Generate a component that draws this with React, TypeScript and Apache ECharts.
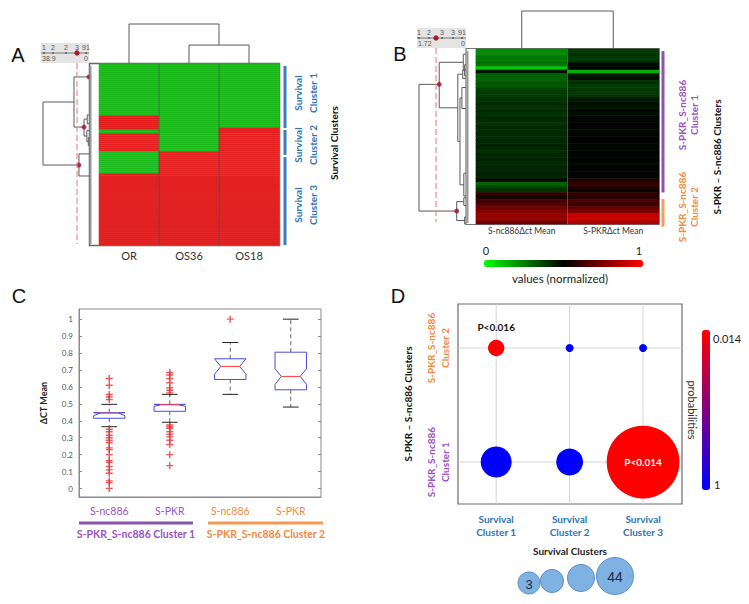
import React, { useEffect, useRef } from 'react';
import * as echarts from 'echarts';

const FONT = 'Lato, "Open Sans", "DejaVu Sans", sans-serif';
const GREEN = '#17b817';
const RED = '#e21a1a';
const BLUE_TXT = '#2e75b6';
const PURPLE = '#9a52c4';
const PURPLE_LINE = '#8756ad';
const ORANGE = '#f28a3d';
const BOX_BLUE = '#4b4be0';

// ---------- Panel A : survival clustergram ----------
const colsA = ['OR', 'OS36', 'OS18'];
const rowCountA = 91;
// run lengths of rows from top to bottom, alternating green(0) / red(1), starting green
const runsOR = [26, 7, 2, 9, 11, 36];
const runsOS36 = [44, 47];
const runsOS18 = [32, 59];
// dendrogram links: [posA, posB, mergeHeight, heightChildA, heightChildB]
const dendroLeftA = [
  [19.1, 50.8, 38.9, 12.7, 8.5],
  [6.5, 31.7, 12.7, 0, 4.2],
  [45.2, 56.3, 8.5, 0, 0],
  [27.7, 36.2, 4.2, 1.5, 1.8],
  [25.6, 30.0, 1.5, 0, 0],
  [33.5, 39.0, 1.8, 0, 0.6],
  [37.0, 41.0, 0.6, 0, 0],
];
const dendroTopA = [
  [1.5, 2.5, 0.46, 0, 0],
  [0.5, 2.0, 1.0, 0, 0.46],
];
const clusterNodesA = [[0, 6.5], [4.2, 31.7], [8.5, 50.8]];
const survivalClusterRows = [[1, 32.2], [33.2, 45.7], [46.8, 91]];

// ---------- Panel B : S-PKR / S-nc886 clustergram ----------
const colsB = ['S-nc886\u0394ct Mean', 'S-PKR\u0394ct Mean'];
const nc886Norm = [0.22, 0.22, 0.26, 0.26, 0.26, 0.1, 0.46, 0.3, 0.3, 0.32, 0.32, 0.37, 0.38, 0.38, 0.4, 0.41, 0.4, 0.41, 0.4, 0.42, 0.41, 0.4, 0.42, 0.41, 0.42, 0.41, 0.42, 0.43, 0.42, 0.41, 0.42, 0.43, 0.42, 0.43, 0.42, 0.44, 0.42, 0.48, 0.3, 0.36, 0.4, 0.6, 0.55, 0.63, 0.68, 0.72, 0.76, 0.8, 0.82, 0.74];
const pkrNorm = [0.38, 0.4, 0.38, 0.4, 0.48, 0.5, 0.15, 0.45, 0.47, 0.4, 0.38, 0.39, 0.38, 0.4, 0.45, 0.47, 0.46, 0.48, 0.47, 0.49, 0.48, 0.5, 0.49, 0.48, 0.5, 0.49, 0.5, 0.49, 0.48, 0.5, 0.49, 0.5, 0.48, 0.5, 0.49, 0.5, 0.49, 0.56, 0.6, 0.58, 0.52, 0.6, 0.58, 0.65, 0.62, 0.7, 0.75, 0.9, 0.92, 0.85];
const dendroLeftB = [
  [10.1, 46.3, 1.72, 0.98, 0.34],
  [3.8, 16.8, 0.98, 0.1, 0.3],
  [1.5, 6.1, 0.1, 0, 0.05],
  [4.5, 7.7, 0.05, 0, 0],
  [7.2, 26.4, 0.3, 0.12, 0.22],
  [6.0, 8.4, 0.12, 0, 0],
  [14.0, 38.8, 0.22, 0.15, 0.08],
  [11.0, 17.0, 0.15, 0, 0],
  [35.5, 42.0, 0.08, 0, 0],
  [43.6, 49.0, 0.34, 0.08, 0.05],
  [42.5, 44.7, 0.08, 0, 0],
  [48.0, 50.0, 0.05, 0, 0],
];
const dendroTopB = [[0.5, 1.5, 1.0, 0, 0]];
const clusterNodesB = [[0.98, 10.1], [0.34, 46.3]];
const pkrClusterRows = [[0.6, 41], [42.9, 50.8]];

// ---------- Panel C : boxplots ----------
const boxNames = ['S-nc886', 'S-PKR', 'S-nc886', 'S-PKR'];
const ticksC = [0, 0.1, 0.2, 0.3, 0.4, 0.5, 0.6, 0.7, 0.8, 0.9, 1];
// [whiskerLow, q1, median, q3, whiskerHigh, notchLow, notchHigh]
const boxStats = [
  [0.365, 0.415, 0.445, 0.448, 0.497, 0.43, 0.448],
  [0.391, 0.456, 0.494, 0.497, 0.556, 0.485, 0.497],
  [0.556, 0.644, 0.721, 0.766, 0.862, 0.675, 0.766],
  [0.481, 0.583, 0.662, 0.805, 1.0, 0.615, 0.707],
];
const outNc886C1 = [0.65, 0.61, 0.555, 0.54, 0.525, 0.35, 0.335, 0.315, 0.3, 0.285, 0.27, 0.24, 0.23, 0.2, 0.165, 0.155, 0.13, 0.11, 0.09, 0.045, 0.035, 0];
const outPkrC1 = [0.685, 0.67, 0.65, 0.625, 0.595, 0.58, 0.565, 0.375, 0.365, 0.355, 0.335, 0.32, 0.305, 0.285, 0.26, 0.2, 0.135];
const outNc886C2 = [1.0];
const outPkrC2: number[] = [];

// ---------- Panel D : bubble chart ----------
const survivalNames = ['Survival\nCluster 1', 'Survival\nCluster 2', 'Survival\nCluster 3'];
const pkrNames = ['S-PKR_S-nc886\nCluster 1', 'S-PKR_S-nc886\nCluster 2'];
const bubbleX = [1, 2, 3, 1, 2, 3];
const bubbleY = [1, 1, 1, 2, 2, 2];
const bubbleCount = [9, 7, 44, 3, 1, 1];
const bubbleP = [1, 1, 0.014, 0.016, 1, 1];
const bubbleText = ['', '', 'P<0.014', 'P<0.016', '', ''];
const gridValsX = [1, 2, 3];
const gridValsY = [1, 2];

function expandRuns(runs: number[]) {
  const out: number[] = [];
  runs.forEach((n, k) => {
    for (let i = 0; i < n; i++) out.push(k % 2);
  });
  return out;
}

function dendroRender(orient: 'top' | 'left') {
  return (_params: any, api: any) => {
    const a = api.value(0), b = api.value(1), h = api.value(2), ha = api.value(3), hb = api.value(4);
    const P = (pos: number, hh: number) => (orient === 'top' ? api.coord([pos, hh]) : api.coord([hh, pos]));
    return {
      type: 'polyline',
      shape: { points: [P(a, ha), P(a, h), P(b, h), P(b, hb)] },
      style: { stroke: '#5a5a5a', lineWidth: 1, fill: 'none' },
    };
  };
}

function barRender(colors: string[]) {
  return (params: any, api: any) => {
    const p1 = api.coord([0.5, api.value(0)]);
    const p2 = api.coord([0.5, api.value(1)]);
    return {
      type: 'line',
      shape: { x1: p1[0], y1: p1[1], x2: p2[0], y2: p2[1] },
      style: { stroke: colors[params.dataIndex % colors.length], lineWidth: 3 },
    };
  };
}

function boxRender(_params: any, api: any) {
  const c = api.value(0);
  const Y = (v: number) => api.coord([c, v])[1];
  const cx = api.coord([c, 0])[0];
  const bw = api.size([1, 0])[0] * 0.26;
  const nw = bw * 0.6;
  const lo = Y(api.value(1)), q1 = Y(api.value(2)), md = Y(api.value(3)), q3 = Y(api.value(4)), hi = Y(api.value(5));
  const nLo = Y(Math.max(api.value(6), api.value(2)));
  const nHi = Y(Math.min(api.value(7), api.value(4)));
  const capW = bw * 0.5;
  return {
    type: 'group',
    children: [
      { type: 'line', shape: { x1: cx, y1: q3, x2: cx, y2: hi }, style: { stroke: '#666', lineWidth: 1, lineDash: [4, 3] } },
      { type: 'line', shape: { x1: cx, y1: q1, x2: cx, y2: lo }, style: { stroke: '#666', lineWidth: 1, lineDash: [4, 3] } },
      { type: 'line', shape: { x1: cx - capW, y1: hi, x2: cx + capW, y2: hi }, style: { stroke: '#222', lineWidth: 1 } },
      { type: 'line', shape: { x1: cx - capW, y1: lo, x2: cx + capW, y2: lo }, style: { stroke: '#222', lineWidth: 1 } },
      {
        type: 'polygon',
        shape: {
          points: [
            [cx - bw, q1], [cx + bw, q1], [cx + bw, nLo], [cx + nw, md], [cx + bw, nHi],
            [cx + bw, q3], [cx - bw, q3], [cx - bw, nHi], [cx - nw, md], [cx - bw, nLo],
          ],
        },
        style: { stroke: BOX_BLUE, fill: 'none', lineWidth: 1 },
      },
      { type: 'line', shape: { x1: cx - nw, y1: md, x2: cx + nw, y2: md }, style: { stroke: '#ff3b3b', lineWidth: 1 } },
    ],
  };
}

function gridLineRender(params: any, api: any) {
  const cs = params.coordSys;
  const kind = api.value(0);
  const v = api.value(1);
  if (kind === 0) {
    const x = api.coord([v, 1.5])[0];
    return { type: 'line', shape: { x1: x, y1: cs.y, x2: x, y2: cs.y + cs.height }, style: { stroke: '#d4d4d4', lineWidth: 1 } };
  }
  const y = api.coord([2, v])[1];
  return { type: 'line', shape: { x1: cs.x, y1: y, x2: cs.x + cs.width, y2: y }, style: { stroke: '#d4d4d4', lineWidth: 1 } };
}

const T = (text: string, x: number, y: number, o: any = {}) => ({
  type: 'text',
  x,
  y,
  rotation: o.rotation || 0,
  z: 100,
  style: {
    text,
    fill: o.color || '#222',
    fontSize: o.size || 10,
    fontWeight: o.weight || 'normal',
    fontFamily: o.family || FONT,
    align: o.align || 'center',
    verticalAlign: 'middle',
    textAlign: o.align || 'center',
    textVerticalAlign: 'middle',
    lineHeight: o.lineHeight || undefined,
  },
});

const L = (x1: number, y1: number, x2: number, y2: number, stroke: string, lineWidth = 1, dash?: number[]) => ({
  type: 'line',
  z: 100,
  shape: { x1, y1, x2, y2 },
  style: { stroke, lineWidth, lineDash: dash },
});

function slider(x: number, y: number, w: number, top: string[], topX: number[], left: string, dotX: number) {
  const els: any[] = [
    { type: 'rect', z: 90, shape: { x, y, width: w, height: 20 }, style: { fill: '#e4e4e4' } },
    L(x, y + 10, x + w, y + 10, '#777', 1),
    { type: 'circle', z: 101, shape: { cx: dotX, cy: y + 10, r: 2.6 }, style: { fill: '#b0142c' } },
    T(left, x + 1, y + 15.5, { size: 7, color: '#555', align: 'left', family: 'Liberation Sans' }),
    T('0', x + w - 1, y + 15.5, { size: 7, color: '#555', align: 'right', family: 'Liberation Sans' }),
  ];
  top.forEach((t, i) => {
    els.push(T(t, topX[i], y + 4, { size: 7, color: '#555', family: 'Liberation Sans' }));
    els.push({ type: 'circle', z: 100, shape: { cx: topX[i], cy: y + 10, r: 0.9 }, style: { fill: '#555' } });
  });
  return els;
}

export default function App() {
  const ref = useRef<HTMLDivElement>(null);
  useEffect(() => {
    if (!ref.current) return;
    document.body.style.margin = '0';
    const chart = echarts.init(ref.current, null, { renderer: 'svg' });

    const colRuns = [runsOR, runsOS36, runsOS18];
    const heatA: number[][] = [];
    colRuns.forEach((runs, c) => {
      expandRuns(runs).forEach((v, r) => heatA.push([c, r, v]));
    });
    const heatB: number[][] = [];
    [nc886Norm, pkrNorm].forEach((arr, c) => arr.forEach((v, r) => heatB.push([c, r, v])));
    const rowsA = Array.from({ length: rowCountA }, (_, i) => String(i));
    const rowsB = nc886Norm.map((_, i) => String(i));

    const boxData = boxStats.map((s, i) => [i, ...s]);
    const outliers: number[][] = [];
    [outNc886C1, outPkrC1, outNc886C2, outPkrC2].forEach((arr, i) => arr.forEach((v) => outliers.push([i, v])));

    const bubbles = bubbleX.map((x, i) => ({
      value: [x, bubbleY[i], bubbleCount[i], bubbleP[i]],
      label: bubbleText[i]
        ? bubbleText[i] === 'P<0.014'
          ? { show: true, position: 'inside', formatter: bubbleText[i], color: '#fff', fontWeight: 'bold', fontSize: 10 }
          : { show: true, position: 'top', distance: 8, formatter: bubbleText[i], color: '#111', fontWeight: 'bold', fontSize: 10 }
        : { show: false },
    }));
    const gridLinesD = [...gridValsX.map((v) => [0, v]), ...gridValsY.map((v) => [1, v])];

    const hid = (gridIndex: number, min: number, max: number, extra: any = {}) => ({
      type: 'value', gridIndex, min, max, show: false, ...extra,
    });

    const option: any = {
      animation: false,
      textStyle: { fontFamily: FONT },
      grid: [
        { left: 99, top: 64, width: 180, height: 181 },   // 0 A heat
        { left: 99, top: 24, width: 180, height: 39 },    // 1 A top dendro
        { left: 43, top: 64, width: 46, height: 181 },    // 2 A left dendro
        { left: 283, top: 64, width: 4, height: 181 },    // 3 A bars
        { left: 476, top: 49, width: 183, height: 175 },  // 4 B heat
        { left: 476, top: 11, width: 183, height: 37 },   // 5 B top dendro
        { left: 419, top: 49, width: 47, height: 175 },   // 6 B left dendro
        { left: 661, top: 49, width: 4, height: 175 },    // 7 B bars
        { left: 79, top: 309, width: 242, height: 188, show: true, borderColor: '#8a8a8a', borderWidth: 1 }, // 8 C
        { left: 458, top: 304, width: 224, height: 200, show: true, borderColor: '#6a6a6a', borderWidth: 1.2 }, // 9 D
      ],
      xAxis: [
        {
          type: 'category', gridIndex: 0, data: colsA,
          axisLine: { show: false }, axisTick: { show: false },
          axisLabel: { fontSize: 11, color: '#333', margin: 5 },
        },
        hid(1, 0, 3),
        hid(2, 0, 38.9, { inverse: true }),
        hid(3, 0, 1),
        {
          type: 'category', gridIndex: 4, data: colsB,
          axisLine: { show: false }, axisTick: { show: false },
          axisLabel: { fontSize: 8.5, color: '#333', margin: 2 },
        },
        hid(5, 0, 2),
        hid(6, 0, 1.72, { inverse: true }),
        hid(7, 0, 1),
        {
          type: 'category', gridIndex: 8, data: boxNames, position: 'bottom',
          axisLine: { onZero: false, lineStyle: { color: '#8a8a8a' } },
          axisTick: { inside: true, alignWithLabel: true, length: 3, lineStyle: { color: '#8a8a8a' } },
          axisLabel: { fontSize: 10.5, margin: 8, color: (_v: any, i: number) => (i < 2 ? PURPLE : ORANGE) },
        },
        {
          type: 'category', gridIndex: 8, data: boxNames, position: 'top',
          axisLine: { show: false, onZero: false },
          axisTick: { inside: true, alignWithLabel: true, length: 3, lineStyle: { color: '#8a8a8a' } },
          axisLabel: { show: false },
        },
        {
          type: 'value', gridIndex: 9, min: 0.48, max: 3.53,
          axisLine: { show: false, onZero: false }, axisTick: { show: false }, splitLine: { show: false },
          axisLabel: {
            customValues: gridValsX,
            formatter: (v: any) => survivalNames[Math.round(Number(v)) - 1] || '',
            color: BLUE_TXT, fontSize: 10, fontWeight: 'bold', lineHeight: 13, margin: 8,
          },
          name: 'Survival Clusters', nameLocation: 'middle', nameGap: 42,
          nameTextStyle: { fontSize: 10, fontWeight: 'bold', color: '#222' },
        },
      ],
      yAxis: [
        { type: 'category', gridIndex: 0, data: rowsA, inverse: true, show: false },
        hid(1, 0, 1),
        hid(2, 0, 91, { inverse: true }),
        hid(3, 0, 91, { inverse: true }),
        { type: 'category', gridIndex: 4, data: rowsB, inverse: true, show: false },
        hid(5, 0, 1),
        hid(6, 0, 50, { inverse: true }),
        hid(7, 0, 50, { inverse: true }),
        {
          type: 'value', gridIndex: 8, min: -0.05, max: 1.06, position: 'left',
          axisLine: { show: true, onZero: false, lineStyle: { color: '#8a8a8a' } },
          axisTick: { show: true, inside: true, length: 3, customValues: ticksC, lineStyle: { color: '#8a8a8a' } },
          axisLabel: { customValues: ticksC, fontSize: 8, color: '#555', margin: 6 },
          splitLine: { show: false },
          name: '\u0394CT Mean', nameLocation: 'middle', nameGap: 31, nameRotate: 90,
          nameTextStyle: { fontSize: 9, fontWeight: 'bold', color: '#222' },
        },
        {
          type: 'value', gridIndex: 8, min: -0.05, max: 1.06, position: 'right',
          axisLine: { show: false, onZero: false },
          axisTick: { show: true, inside: true, length: 3, customValues: ticksC, lineStyle: { color: '#8a8a8a' } },
          axisLabel: { show: false, customValues: ticksC },
          splitLine: { show: false },
        },
        {
          type: 'value', gridIndex: 9, min: 0.632, max: 2.386,
          axisLine: { show: false, onZero: false }, axisTick: { show: false }, splitLine: { show: false },
          axisLabel: {
            customValues: gridValsY,
            rotate: 90,
            formatter: (v: any) => pkrNames[Math.round(Number(v)) - 1] || '',
            color: (v: any) => (Math.round(Number(v)) === 1 ? PURPLE : ORANGE),
            fontSize: 10, fontWeight: 'bold', lineHeight: 14, margin: 6,
          },
          name: 'S-PKR \u2013 S-nc886 Clusters', nameLocation: 'middle', nameGap: 45, nameRotate: 90,
          nameTextStyle: { fontSize: 10, fontWeight: 'bold', color: '#111' },
        },
      ],
      visualMap: [
        { type: 'continuous', show: false, seriesIndex: 0, min: 0, max: 1, dimension: 2, inRange: { color: [GREEN, RED] } },
        {
          type: 'continuous', seriesIndex: 5, min: 0, max: 1, dimension: 2, orient: 'horizontal',
          left: 484, top: 260, itemWidth: 7, itemHeight: 159, padding: 0, calculable: false,
          inRange: { color: ['#00ff00', '#000000', '#ff0000'] }, text: null, showLabel: false,
        },
        {
          type: 'continuous', seriesIndex: 13, min: 0.014, max: 1, dimension: 3, orient: 'vertical', inverse: true,
          left: 702, top: 330, itemWidth: 8, itemHeight: 160, padding: 0, calculable: false,
          inRange: { color: ['#ff0000', '#0000ff'] }, text: null,
        },
      ],
      series: [
        {
          type: 'heatmap', xAxisIndex: 0, yAxisIndex: 0, data: heatA, progressive: 0,
          itemStyle: { borderColor: 'rgba(255,255,255,0.14)', borderWidth: 0.5 },
        },
        { type: 'custom', xAxisIndex: 1, yAxisIndex: 1, data: dendroTopA, renderItem: dendroRender('top'), silent: true },
        { type: 'custom', xAxisIndex: 2, yAxisIndex: 2, data: dendroLeftA, renderItem: dendroRender('left'), silent: true },
        {
          type: 'scatter', xAxisIndex: 2, yAxisIndex: 2, data: clusterNodesA, symbolSize: 5,
          itemStyle: { color: '#a3122f' }, z: 5, silent: true,
        },
        {
          type: 'custom', xAxisIndex: 3, yAxisIndex: 3, data: survivalClusterRows,
          renderItem: barRender(['#3a7cc0']), silent: true,
        },
        {
          type: 'heatmap', xAxisIndex: 4, yAxisIndex: 4, data: heatB, progressive: 0,
          itemStyle: { borderColor: 'rgba(0,0,0,0.22)', borderWidth: 0.5 },
        },
        { type: 'custom', xAxisIndex: 5, yAxisIndex: 5, data: dendroTopB, renderItem: dendroRender('top'), silent: true },
        { type: 'custom', xAxisIndex: 6, yAxisIndex: 6, data: dendroLeftB, renderItem: dendroRender('left'), silent: true },
        {
          type: 'scatter', xAxisIndex: 6, yAxisIndex: 6, data: clusterNodesB, symbolSize: 5,
          itemStyle: { color: '#a3122f' }, z: 5, silent: true,
        },
        {
          type: 'custom', xAxisIndex: 7, yAxisIndex: 7, data: pkrClusterRows,
          renderItem: barRender([PURPLE_LINE, '#f0a060']), silent: true,
        },
        { type: 'custom', xAxisIndex: 8, yAxisIndex: 8, data: boxData, renderItem: boxRender, silent: true, z: 3 },
        {
          type: 'scatter', xAxisIndex: 8, yAxisIndex: 8, data: outliers, symbolSize: 7,
          symbol: 'path://M4,0H6V4H10V6H6V10H4V6H0V4H4Z', itemStyle: { color: '#e83030' }, silent: true,
        },
        { type: 'custom', xAxisIndex: 10, yAxisIndex: 10, data: gridLinesD, renderItem: gridLineRender, silent: true, z: 1 },
        {
          type: 'scatter', xAxisIndex: 10, yAxisIndex: 10, data: bubbles, z: 3, silent: true,
          symbolSize: (val: number[]) => -3.5 + 11.5 * Math.sqrt(val[2]),
          itemStyle: { opacity: 1 },
        },
      ],
      graphic: [
        // panel letters
        T('A', 18, 55, { size: 20, family: 'Liberation Sans', color: '#111' }),
        T('B', 400, 54, { size: 20, family: 'Liberation Sans', color: '#111' }),
        T('C', 19, 296, { size: 20, family: 'Liberation Sans', color: '#111' }),
        T('D', 398, 296, { size: 20, family: 'Liberation Sans', color: '#111' }),
        // panel A frame & leaf strip
        { type: 'rect', z: -1, shape: { x: 89.5, y: 63.5, width: 190, height: 182 }, style: { fill: '#fff', stroke: '#666', lineWidth: 1.5 } },
        L(90.5, 66, 90.5, 244, '#999', 2),
        L(159, 64, 159, 245, 'rgba(60,60,60,0.55)', 1),
        L(219, 64, 219, 245, 'rgba(60,60,60,0.55)', 1),
        ...slider(41, 43, 48, ['1', '2', '2', '3', '91'], [44, 53, 66, 77, 86], '38.9', 77),
        L(77, 63, 77, 244, '#f08a8a', 1.2, [6, 3]),
        T('Survival\nCluster 1', 305.5, 93, { rotation: Math.PI / 2, color: BLUE_TXT, weight: 'bold', size: 10, lineHeight: 15 }),
        T('Survival\nCluster 2', 305.5, 145, { rotation: Math.PI / 2, color: BLUE_TXT, weight: 'bold', size: 10, lineHeight: 15 }),
        T('Survival\nCluster 3', 305.5, 205, { rotation: Math.PI / 2, color: BLUE_TXT, weight: 'bold', size: 10, lineHeight: 15 }),
        T('Survival Clusters', 334, 143, { rotation: Math.PI / 2, color: '#111', weight: 'bold', size: 10 }),
        // panel B frame & leaf strip
        { type: 'rect', z: -1, shape: { x: 466, y: 48.5, width: 193, height: 176 }, style: { fill: '#fff', stroke: '#777', lineWidth: 1.2 } },
        L(467.5, 51, 467.5, 223, '#999', 2),
        L(567.5, 49, 567.5, 224, 'rgba(120,120,120,0.6)', 1),
        ...slider(417, 28, 49, ['1', '2', '3', '3', '91'], [419, 429, 442, 453, 462], '1.72', 436),
        L(436, 48, 436, 222, '#f08a8a', 1.2, [6, 3]),
        T('S-PKR_S-nc886\nCluster 1', 688, 115, { rotation: Math.PI / 2, color: PURPLE, weight: 'bold', size: 10, lineHeight: 12 }),
        T('S-PKR_S-nc886\nCluster 2', 688, 207, { rotation: Math.PI / 2, color: ORANGE, weight: 'bold', size: 10, lineHeight: 12 }),
        T('S-PKR \u2013 S-nc886 Clusters', 717, 157, { rotation: Math.PI / 2, color: '#111', weight: 'bold', size: 10 }),
        T('0', 486, 250, { size: 11, color: '#222' }),
        T('1', 639, 250, { size: 11, color: '#222' }),
        T('values (normalized)', 560, 278, { size: 11.5, color: '#222' }),
        // panel C group underlines
        L(79, 523, 193, 523, PURPLE_LINE, 3),
        L(208, 523, 323, 523, '#f49a55', 3),
        T('S-PKR_S-nc886 Cluster 1', 136, 534, { color: PURPLE, weight: 'bold', size: 10.5 }),
        T('S-PKR_S-nc886 Cluster 2', 266, 534, { color: ORANGE, weight: 'bold', size: 10.5 }),
        // panel D colorbar labels
        T('probabilities', 692, 410, { rotation: -Math.PI / 2, size: 11, color: '#333' }),
        T('0.014', 713, 338, { size: 11, color: '#222', align: 'left' }),
        T('1', 714, 484, { size: 11, color: '#222', align: 'left' }),
        // bubble size legend
        { type: 'circle', z: 100, shape: { cx: 529, cy: 583, r: 11 }, style: { fill: '#7fb2e3', stroke: '#5a8fc4', lineWidth: 1 } },
        { type: 'circle', z: 100, shape: { cx: 552, cy: 581, r: 11.5 }, style: { fill: '#7fb2e3', stroke: '#5a8fc4', lineWidth: 1 } },
        { type: 'circle', z: 100, shape: { cx: 581, cy: 578, r: 13.5 }, style: { fill: '#7fb2e3', stroke: '#5a8fc4', lineWidth: 1 } },
        { type: 'circle', z: 100, shape: { cx: 615, cy: 576, r: 18.5 }, style: { fill: '#7fb2e3', stroke: '#5a8fc4', lineWidth: 1 } },
        T('3', 529, 584, { size: 13, color: '#1d2a44', family: 'Liberation Sans' }),
        T('44', 615, 577, { size: 14, color: '#1d2a44', family: 'Liberation Sans' }),
      ],
    };
    chart.setOption(option);
    return () => chart.dispose();
  }, []);
  return <div ref={ref} style={{ position: 'absolute', left: 0, top: 0, width: 749, height: 604 }} />;
}
